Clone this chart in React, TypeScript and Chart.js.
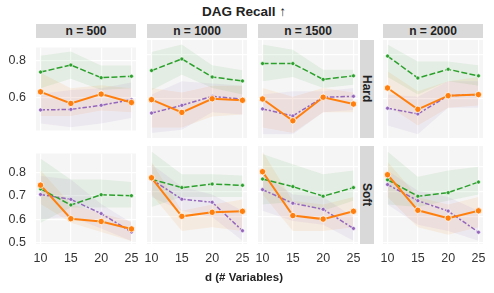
import React, { useEffect, useRef } from "react";
import { Chart, registerables } from "chart.js";
Chart.register(...registerables);

const FONT = '"Liberation Sans", Arial, sans-serif';

const dValues = [10, 15, 20, 25];
const nLabels = ["n = 500", "n = 1000", "n = 1500", "n = 2000"];
const rowLabels = ["Hard", "Soft"];
const hardYTicks = [0.6, 0.8];
const softYTicks = [0.5, 0.6, 0.7, 0.8];
const titleText = "DAG Recall ↑";
const xLabelText = "d (# Variables)";

// Each array: one row per n (500, 1000, 1500, 2000), values at d = 10, 15, 20, 25
const hardGreen = [[0.736, 0.774, 0.706, 0.714], [0.729, 0.782, 0.700, 0.682], [0.761, 0.761, 0.689, 0.705], [0.795, 0.695, 0.735, 0.705]];
const hardGreenLo = [[0.65, 0.70, 0.64, 0.65], [0.64, 0.71, 0.65, 0.62], [0.68, 0.70, 0.65, 0.665], [0.70, 0.62, 0.68, 0.66]];
const hardGreenHi = [[0.824, 0.847, 0.771, 0.771], [0.813, 0.847, 0.753, 0.73], [0.847, 0.824, 0.733, 0.733], [0.847, 0.77, 0.77, 0.753]];

const hardOrange = [[0.630, 0.568, 0.618, 0.573], [0.597, 0.539, 0.601, 0.594], [0.600, 0.501, 0.608, 0.577], [0.650, 0.553, 0.615, 0.620]];
const hardOrangeLo = [[0.50, 0.50, 0.53, 0.52], [0.47, 0.47, 0.52, 0.53], [0.47, 0.445, 0.54, 0.54], [0.57, 0.48, 0.56, 0.57]];
const hardOrangeHi = [[0.733, 0.65, 0.665, 0.65], [0.65, 0.63, 0.66, 0.66], [0.65, 0.61, 0.65, 0.63], [0.726, 0.635, 0.68, 0.70]];

const hardPurple = [[0.533, 0.536, 0.558, 0.588], [0.536, 0.571, 0.612, 0.599], [0.555, 0.523, 0.608, 0.612], [0.558, 0.532, 0.615, 0.620]];
const hardPurpleLo = [[0.46, 0.44, 0.46, 0.49], [0.445, 0.46, 0.54, 0.53], [0.44, 0.44, 0.54, 0.55], [0.48, 0.44, 0.56, 0.56]];
const hardPurpleHi = [[0.62, 0.64, 0.65, 0.68], [0.62, 0.68, 0.67, 0.66], [0.62, 0.635, 0.635, 0.65], [0.62, 0.61, 0.68, 0.68]];

const softGreen = [[0.730, 0.661, 0.705, 0.701], [0.750, 0.717, 0.731, 0.726], [0.751, 0.721, 0.683, 0.717], [0.748, 0.683, 0.697, 0.739]];
const softGreenLo = [[0.585, 0.65, 0.65, 0.65], [0.64, 0.68, 0.68, 0.68], [0.65, 0.66, 0.625, 0.665], [0.65, 0.64, 0.665, 0.69]];
const softGreenHi = [[0.86, 0.77, 0.77, 0.76], [0.86, 0.77, 0.77, 0.765], [0.85, 0.81, 0.77, 0.785], [0.86, 0.76, 0.785, 0.80]];

const softOrange = [[0.746, 0.602, 0.590, 0.558], [0.756, 0.603, 0.619, 0.623], [0.780, 0.606, 0.592, 0.623], [0.768, 0.627, 0.596, 0.625]];
const softOrangeLo = [[0.665, 0.585, 0.545, 0.506], [0.69, 0.545, 0.56, 0.545], [0.69, 0.545, 0.545, 0.56], [0.68, 0.56, 0.53, 0.56]];
const softOrangeHi = [[0.81, 0.665, 0.625, 0.59], [0.82, 0.625, 0.65, 0.67], [0.86, 0.665, 0.65, 0.68], [0.82, 0.68, 0.65, 0.68]];

const softPurple = [[0.706, 0.685, 0.624, 0.545], [0.750, 0.671, 0.659, 0.546], [0.709, 0.655, 0.631, 0.555], [0.729, 0.665, 0.624, 0.540]];
const softPurpleLo = [[0.60, 0.61, 0.56, 0.506], [0.68, 0.625, 0.60, 0.506], [0.625, 0.585, 0.57, 0.506], [0.65, 0.57, 0.545, 0.506]];
const softPurpleHi = [[0.785, 0.77, 0.665, 0.585], [0.81, 0.72, 0.69, 0.625], [0.77, 0.69, 0.68, 0.60], [0.785, 0.705, 0.68, 0.625]];

const GREEN = "#2ca02c";
const ORANGE = "#ff7f0e";
const PURPLE = "#9467bd";

const colLeft = [36, 147, 258, 383];
const colWidth = 100;
const rowTop = [40, 146];
const rowHeight = 98;
const rowYMin = [0.4227, 0.4933];
const rowYMax = [0.868, 0.882];
const PAD = 10;
const Y_AXIS_W = 36;
const X_AXIS_H = 24;

const bgPlugin = {
  id: "panelBg",
  beforeDraw(chart: any) {
    const { ctx, chartArea: a } = chart;
    ctx.save();
    ctx.fillStyle = "#f5f5f5";
    ctx.fillRect(a.left, a.top, a.right - a.left, a.bottom - a.top);
    ctx.restore();
  },
};

function toPts(vals: number[]) {
  return vals.map((v, i) => ({ x: dValues[i], y: v }));
}

function Panel({ row, col }: { row: number; col: number }) {
  const ref = useRef<HTMLCanvasElement>(null);
  const hasY = col === 0;
  const hasX = row === 1;
  const left = colLeft[col] - PAD - (hasY ? Y_AXIS_W : 0);
  const top = rowTop[row] - PAD;
  const width = colWidth + 2 * PAD + (hasY ? Y_AXIS_W : 0);
  const height = rowHeight + 2 * PAD + (hasX ? X_AXIS_H : 0);

  useEffect(() => {
    const g = row === 0 ? [hardGreen, hardGreenLo, hardGreenHi] : [softGreen, softGreenLo, softGreenHi];
    const o = row === 0 ? [hardOrange, hardOrangeLo, hardOrangeHi] : [softOrange, softOrangeLo, softOrangeHi];
    const p = row === 0 ? [hardPurple, hardPurpleLo, hardPurpleHi] : [softPurple, softPurpleLo, softPurpleHi];
    const band = (vals: number[], color: string, fill: any) => ({
      data: toPts(vals),
      borderWidth: 0,
      pointRadius: 0,
      backgroundColor: color,
      fill,
      order: 10,
    });
    const datasets: any[] = [
      band(p[1][col], "rgba(148,103,189,0.085)", false),
      band(p[2][col], "rgba(148,103,189,0.085)", "-1"),
      band(g[1][col], "rgba(44,160,44,0.085)", false),
      band(g[2][col], "rgba(44,160,44,0.085)", "-1"),
      band(o[1][col], "rgba(255,127,14,0.085)", false),
      band(o[2][col], "rgba(255,127,14,0.085)", "-1"),
      {
        data: toPts(p[0][col]),
        borderColor: PURPLE,
        backgroundColor: PURPLE,
        borderWidth: 1.5,
        borderDash: [4.5, 1.9, 2.2, 1.9],
        pointRadius: 2,
        pointBorderColor: "#ffffff",
        pointBorderWidth: 0.6,
        fill: false,
        order: 3,
      },
      {
        data: toPts(g[0][col]),
        borderColor: GREEN,
        backgroundColor: GREEN,
        borderWidth: 1.5,
        borderDash: [6, 2.25],
        pointRadius: 2,
        pointBorderColor: "#ffffff",
        pointBorderWidth: 0.6,
        fill: false,
        order: 2,
      },
      {
        data: toPts(o[0][col]),
        borderColor: ORANGE,
        backgroundColor: ORANGE,
        borderWidth: 2,
        pointRadius: 3.2,
        pointBorderColor: "#ffffff",
        pointBorderWidth: 0.8,
        fill: false,
        order: 1,
      },
    ];
    const yTicks = row === 0 ? hardYTicks : softYTicks;
    const chart = new Chart(ref.current as HTMLCanvasElement, {
      type: "line",
      data: { datasets },
      plugins: [bgPlugin],
      options: {
        animation: false,
        responsive: true,
        maintainAspectRatio: false,
        layout: { padding: PAD },
        plugins: { legend: { display: false }, tooltip: { enabled: false }, title: { display: false } },
        scales: {
          x: {
            type: "linear",
            min: 9.25,
            max: 25.75,
            afterBuildTicks: (s: any) => {
              s.ticks = dValues.map((v) => ({ value: v }));
            },
            afterFit: (s: any) => {
              s.height = hasX ? X_AXIS_H : 0;
            },
            grid: { color: "#ffffff", lineWidth: 1.2, drawTicks: false },
            border: { display: false },
            ticks: {
              display: hasX,
              padding: 7,
              color: "#333333",
              font: { family: FONT, size: 12.5 },
              callback: (v: any) => String(v),
              maxRotation: 0,
            },
          },
          y: {
            type: "linear",
            min: rowYMin[row],
            max: rowYMax[row],
            afterBuildTicks: (s: any) => {
              s.ticks = yTicks.map((v) => ({ value: v }));
            },
            afterFit: (s: any) => {
              s.width = hasY ? Y_AXIS_W : 0;
            },
            grid: { color: "#ffffff", lineWidth: 1.2, drawTicks: false },
            border: { display: false },
            ticks: {
              display: hasY,
              padding: 10,
              color: "#333333",
              font: { family: FONT, size: 12.5 },
              callback: (v: any) => Number(v).toFixed(1),
            },
          },
        },
      } as any,
    });
    return () => chart.destroy();
  }, []);

  return (
    <div style={{ position: "absolute", left, top, width, height }}>
      <canvas ref={ref} />
    </div>
  );
}

export default function App() {
  return (
    <div
      style={{
        position: "fixed",
        left: 0,
        top: 0,
        width: 494,
        height: 293,
        background: "#ffffff",
        fontFamily: FONT,
        overflow: "hidden",
      }}
    >
      <div
        style={{
          position: "absolute",
          left: 144,
          width: 200,
          top: 4,
          textAlign: "center",
          fontWeight: "bold",
          fontSize: 13.5,
          color: "#222",
          lineHeight: "16px",
        }}
      >
        {titleText}
      </div>
      {nLabels.map((t, i) => (
        <div
          key={t}
          style={{
            position: "absolute",
            left: colLeft[i],
            top: 24,
            width: colWidth,
            height: 14,
            background: "#d9d9d9",
            textAlign: "center",
            fontWeight: "bold",
            fontSize: 12,
            lineHeight: "14px",
            color: "#222",
          }}
        >
          {t}
        </div>
      ))}
      {rowLabels.map((t, r) => (
        <div
          key={t}
          style={{
            position: "absolute",
            left: 360,
            top: rowTop[r],
            width: 14,
            height: rowHeight,
            background: "#d9d9d9",
            display: "flex",
            alignItems: "center",
            justifyContent: "center",
          }}
        >
          <span
            style={{
              writingMode: "vertical-rl",
              fontWeight: "bold",
              fontSize: 12,
              lineHeight: "14px",
              color: "#222",
            }}
          >
            {t}
          </span>
        </div>
      ))}
      {[0, 1].map((r) => [0, 1, 2, 3].map((c) => <Panel key={`${r}-${c}`} row={r} col={c} />))}
      <div
        style={{
          position: "absolute",
          left: 144,
          width: 200,
          top: 270,
          textAlign: "center",
          fontWeight: "bold",
          fontSize: 11.5,
          color: "#222",
          lineHeight: "14px",
        }}
      >
        {xLabelText}
      </div>
    </div>
  );
}
